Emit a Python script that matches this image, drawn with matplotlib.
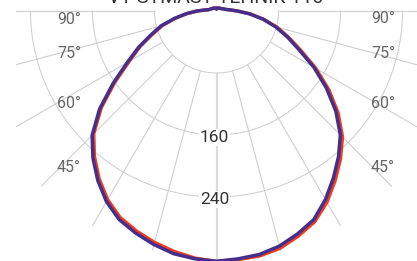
import numpy as np
import matplotlib.pyplot as plt
from matplotlib.patches import Rectangle

# gamma angles (deg from nadir) and intensities (cd)
angles = [0, 5, 10, 15, 20, 25, 30, 35, 40, 45, 50, 55, 60, 65, 70, 75, 80, 85, 90, 95, 100,
          120, 140, 160, 180]
blue_left = [323, 321, 318, 312, 305, 297, 284, 267, 248, 227, 197, 163, 133, 111, 90, 74, 55,
             39, 25, 15, 10, 6.5, 5, 4, 3.2]
blue_right = [323, 321, 319, 314, 306, 297, 281, 263, 245, 226, 201, 173, 145, 117, 97, 79, 61,
              43, 27, 17, 12, 6.5, 5, 4, 3.2]
red_left = [323, 320, 315, 309, 302, 294, 281, 264, 245, 224, 194, 160, 130, 109, 88, 72, 54,
            38, 25, 15, 10, 6.5, 5, 4, 3.2]
red_right = [323, 322, 321, 317, 309, 300, 285, 267, 249, 230, 205, 177, 148, 120, 99, 81, 62,
             44, 27, 17, 12, 6.5, 5, 4, 3.2]

rings = [80, 160, 240]
ring_labels = ['160', '240']
spokes = [0, 15, 30, 45, 60, 75, 90]
deg_labels = ['90°', '75°', '60°', '45°']
title = 'VY SYMAST TEHNIK 110'

# pixel geometry of the 417x261 canvas
W, H = 417, 261
PX = 0.775          # pixels per cd
CX, CY = 216.5, 11  # polar centre in pixels


def px(x, y):
    return (x - CX) / PX, (CY - y) / PX


fig = plt.figure(figsize=(W / 100, H / 100), dpi=100)
ax = fig.add_axes([0, 0, 1, 1])
ax.set_xlim((0 - CX) / PX, (W - CX) / PX)
ax.set_ylim((CY - H) / PX, CY / PX)
ax.axis('off')

clip = Rectangle((-259, -400), 518, 500, transform=ax.transData)

# rings (lower half only)
t = np.radians(np.linspace(-90, 90, 200))
for r in rings:
    ax.plot(r * np.sin(t), -r * np.cos(t), color='#d2d2d2', lw=0.8, zorder=1)

# spokes
for a in spokes:
    for s in ([1] if a == 0 else [-1, 1]):
        th = np.radians(a) * s
        ln, = ax.plot([80 * np.sin(th), 320 * np.sin(th)], [-80 * np.cos(th), -320 * np.cos(th)],
                      color='#dcdcdc' if a == 0 else '#cfcfcf', lw=1.6 if a == 0 else 0.8,
                      zorder=1, solid_capstyle='butt')
        ln.set_clip_path(clip)


def curve(left, right):
    th = np.radians(angles)
    xl = -np.array(left) * np.sin(th)
    yl = -np.array(left) * np.cos(th)
    xr = np.array(right) * np.sin(th)
    yr = -np.array(right) * np.cos(th)
    return np.concatenate([xl[::-1], xr]), np.concatenate([yl[::-1], yr])


x, y = curve(red_left, red_right)
ax.plot(x, y, color='#f03c1e', lw=2.4, zorder=3, solid_joinstyle='round')
x, y = curve(blue_left, blue_right)
ax.plot(x, y, color='#452f8c', lw=2.5, zorder=4, solid_joinstyle='round')

fnt = ['Liberation Sans Narrow', 'Roboto', 'DejaVu Sans']

# ring value labels
for lab, yp in zip(ring_labels, [137.5, 199.3]):
    ax.text(*px(214.5, yp), lab, ha='center', va='center', fontsize=12.5, color='#333333',
            family=fnt, zorder=2,
            bbox=dict(boxstyle='square,pad=0.05', fc='white', ec='none'))

# angle labels
for lab, yl, yr in zip(deg_labels, [19, 54, 104, 168], [18.5, 53, 103, 167]):
    ax.text(*px(69, yl), lab, ha='center', va='center', fontsize=11.5, color='#666666', family=fnt)
    ax.text(*px(383, yr), lab, ha='center', va='center', fontsize=11.5, color='#666666', family=fnt)

ax.text(*px(216, 3), title, ha='center', va='baseline', fontsize=14, color='#333333', family=fnt)

fig.savefig('out.png', dpi=100)
